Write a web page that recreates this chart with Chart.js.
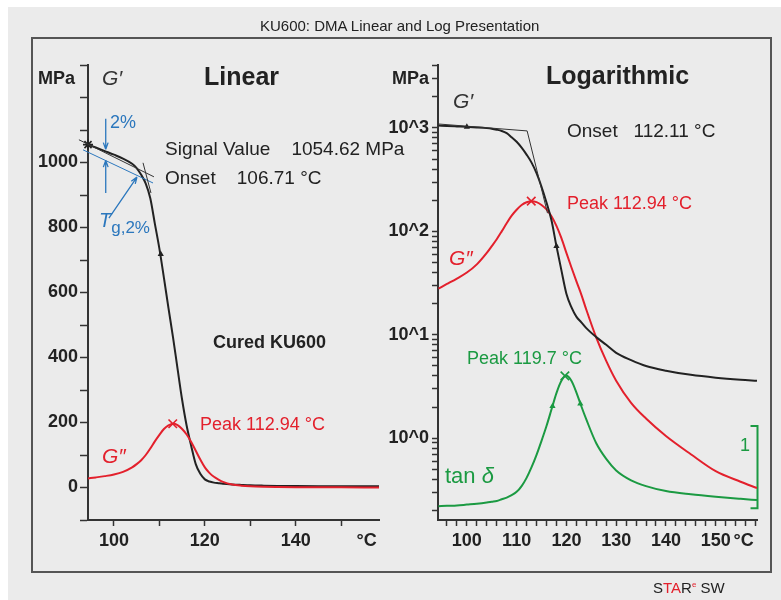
<!DOCTYPE html>
<html>
	<head>
		<title>KU600: DMA Linear and Log Presentation</title>
		<style type="text/css">
			body{ margin:0; background:#fff; }
			#page{ position:relative; width:781px; height:600px; overflow:hidden; font-family:"Liberation Sans", Arial, sans-serif; color:#222; }
			#panel{ position:absolute; left:8px; top:7px; width:773px; height:593px; background:#ebebeb; }
			#frame{ position:absolute; left:31px; top:37px; width:741px; height:536px; border:2px solid #555; box-sizing:border-box; }
			canvas{ position:absolute; left:0; top:0; }
			.t{ position:absolute; white-space:pre; line-height:1; }
			.red{ color:#e3202c; }
			.green{ color:#1b9a42; }
			.blue{ color:#2b77bd; }
			.b{ font-weight:bold; }
		</style>
	</head>
	<body>
		<script type="text/javascript" src="https://cdn.jsdelivr.net/npm/chart.js@4.4.0/dist/chart.umd.min.js"></script>

		<div id="page">
			<div id="panel"></div>
			<div id="frame"></div>
			<canvas id="linCanvas" width="781" height="600"></canvas>
			<canvas id="logCanvas" width="781" height="600"></canvas>

			<div class="t" style="left:260px;top:18px;font-size:15px;">KU600: DMA Linear and Log Presentation</div>

			<!-- linear panel labels -->
			<div class="t b" style="left:38px;top:69px;font-size:18px;">MPa</div>
			<div class="t" style="left:102px;top:67px;font-size:21px;font-style:italic;color:#333;">G′</div>
			<div class="t b" style="left:204px;top:64px;font-size:25px;">Linear</div>
			<div class="t blue" style="left:110px;top:113px;font-size:18px;">2%</div>
			<div class="t" style="left:165px;top:139px;font-size:19px;">Signal Value    1054.62 MPa</div>
			<div class="t" style="left:165px;top:168px;font-size:19px;">Onset    106.71 °C</div>
			<div class="t blue" style="left:99px;top:210px;font-size:20px;"><i>T</i><span style="font-size:17px;position:relative;top:6px;">g,2%</span></div>
			<div class="t b" style="left:213px;top:333px;font-size:18px;">Cured KU600</div>
			<div class="t red" style="left:200px;top:415px;font-size:18px;">Peak 112.94 °C</div>
			<div class="t red" style="left:102px;top:445px;font-size:21px;font-style:italic;">G″</div>

			<!-- log panel labels -->
			<div class="t b" style="left:546px;top:63px;font-size:25px;">Logarithmic</div>
			<div class="t" style="left:453px;top:90px;font-size:21px;font-style:italic;color:#333;">G′</div>
			<div class="t" style="left:567px;top:121px;font-size:19px;">Onset   112.11 °C</div>
			<div class="t red" style="left:567px;top:194px;font-size:18px;">Peak 112.94 °C</div>
			<div class="t red" style="left:449px;top:247px;font-size:21px;font-style:italic;">G″</div>
			<div class="t green" style="left:467px;top:349px;font-size:18px;">Peak 119.7 °C</div>
			<div class="t green" style="left:445px;top:465px;font-size:22px;">tan <i>δ</i></div>
			<div class="t green" style="left:740px;top:436px;font-size:18px;">1</div>

			<div class="t" style="left:653px;top:580px;font-size:15px;">S<span class="red">TA</span>R<sup class="red" style="font-size:8px;">e</sup> SW</div>
		</div>

		<script type="text/javascript">

			//measured curves, temperature in °C
			var temps = [94.3, 96, 98, 100, 102, 104, 105, 106, 107, 108, 109, 110, 111, 112, 113, 114, 115, 116, 117, 118, 119, 120, 121, 122, 123, 124, 126, 128, 130, 133, 136, 140, 145, 150, 155, 158.3];
			//storage modulus G' in MPa
			var storageMod = [1055, 1046, 1035, 1024, 1012, 996, 983, 962, 935, 890, 812, 735, 645, 552, 462, 365, 270, 190, 128, 72, 42, 25, 18.5, 15, 13.2, 11.6, 9.5, 8.0, 6.7, 5.7, 5.0, 4.5, 4.1, 3.85, 3.68, 3.6];
			//loss modulus G'' in MPa
			var lossMod = [28, 31, 35, 40, 48, 62, 72, 84, 100, 120, 142, 162, 180, 191, 196, 192, 180, 163, 140, 113, 86, 62, 45, 33, 24.5, 17.5, 9.4, 5.6, 3.6, 2.2, 1.55, 1.05, 0.7, 0.48, 0.38, 0.33];
			//tan delta
			var tanDelta = [0.025, 0.03, 0.035, 0.045, 0.055, 0.07, 0.08, 0.09, 0.11, 0.13, 0.16, 0.2, 0.27, 0.37, 0.5, 0.65, 0.82, 1.0, 1.2, 1.4, 1.55, 1.61, 1.55, 1.41, 1.24, 1.08, 0.79, 0.6, 0.46, 0.34, 0.27, 0.21, 0.17, 0.14, 0.115, 0.1];

			//evaluation results
			var signalPoint = [94.3, 1055];
			var gppPeak = [112.94, 196];
			var tanPeak = [119.7, 1.61];
			var linBaseline = [[92.3, 1070], [108.8, 956]];
			var linSteep = [[106.4, 999], [108.15, 906]];
			var linTwoPct = [[93.2, 1039], [108.6, 937]];
			var tgArrows = [
				{from:[98.2, 1135], to:[98.2, 1041]},
				{from:[98.2, 906], to:[98.2, 1006]},
				{from:[98.9, 829], to:[105.07, 955]}
			];
			var logBaseline = [[94.2, 1093], [112.11, 936]];
			var logSteep = [[112.11, 936], [116.2, 150]];
			var tanBracket = [[157.0, 1], [158.4, 1], [158.4, 0], [157.0, 0]];
			//small direction marks sitting on the curves
			var linMarkG1 = [[110.3, 718]];
			var logMarkG1 = [[100, 1024], [118, 72]];
			var logMarkTan = [[117.2, 1.24], [122.8, 1.27]];

			//axis ticks
			var linXTicks = [100, 110, 120, 130, 140, 150];
			var linXLabels = [100, 120, 140];
			var logXTicks = [96, 98, 100, 102, 104, 106, 108, 110, 112, 114, 116, 118, 120, 122, 124, 126, 128, 130, 132, 134, 136, 138, 140, 142, 144, 146, 148, 150, 152, 154, 156, 158];
			var logXLabels = [100, 110, 120, 130, 140, 150];
			var unitTick = 155.6;
			var linYTicks = [-100, 0, 100, 200, 300, 400, 500, 600, 700, 800, 900, 1000, 1100, 1200, 1300];
			var linYLabels = [0, 200, 400, 600, 800, 1000];

			var DARK = '#222', RED = '#e3202c', GREEN = '#1b9a42', BLUE = '#2b77bd';
			var tickFont = {size:18, weight:'bold'};

			Chart.defaults.font.family = '"Liberation Sans", Arial, sans-serif';
			Chart.defaults.color = DARK;

			function pts(xs, ys){
				return xs.map(function(x, i){ return {x:x, y:ys[i]}; });
			}
			function pairs(list){
				return list.map(function(p){ return {x:p[0], y:p[1]}; });
			}
			function curve(data, color, axis){
				return {data:data, yAxisID:axis, borderColor:color, borderWidth:2, pointRadius:0, cubicInterpolationMode:'monotone', fill:false};
			}
			function thin(data, color, axis){
				return {data:data, yAxisID:axis, borderColor:color, borderWidth:1, pointRadius:0, tension:0, clip:false, fill:false};
			}
			function marker(data, color, axis, style, r){
				return {data:data, yAxisID:axis, showLine:false, pointStyle:style, pointRadius:r || 6, borderColor:color, backgroundColor:color, pointBorderWidth:1.6, clip:false};
			}
			function zeroPad(s){
				s.paddingLeft = 0; s.paddingRight = 0; s.paddingTop = 0; s.paddingBottom = 0;
			}

			//blue arrows of the 2% evaluation
			var arrowPlugin = {
				id:'tgArrows',
				afterDatasetsDraw: function(chart){
					var c = chart.ctx, xs = chart.scales.x, ys = chart.scales.y;
					c.save();
					c.strokeStyle = BLUE;
					c.lineWidth = 1.3;
					tgArrows.forEach(function(a){
						var x1 = xs.getPixelForValue(a.from[0]), y1 = ys.getPixelForValue(a.from[1]);
						var x2 = xs.getPixelForValue(a.to[0]), y2 = ys.getPixelForValue(a.to[1]);
						var ang = Math.atan2(y2 - y1, x2 - x1), h = 7;
						c.beginPath();
						c.moveTo(x1, y1); c.lineTo(x2, y2);
						c.moveTo(x2, y2); c.lineTo(x2 - h*Math.cos(ang - 0.35), y2 - h*Math.sin(ang - 0.35));
						c.moveTo(x2, y2); c.lineTo(x2 - h*Math.cos(ang + 0.35), y2 - h*Math.sin(ang + 0.35));
						c.stroke();
					});
					c.restore();
				}
			};

			function xAxis(min, max, tickVals, labelVals){
				return {
					type:'linear', min:min, max:max,
					afterBuildTicks: function(s){
						s.ticks = tickVals.concat([unitTick]).map(function(v){ return {value:v}; });
					},
					afterFit: function(s){ s.height = 48; zeroPad(s); },
					ticks:{
						autoSkip:false, maxRotation:0, font:tickFont, color:DARK, padding:4,
						callback: function(v){
							if (v === unitTick) return '°C';
							return labelVals.indexOf(v) >= 0 ? String(v) : '';
						}
					},
					grid:{
						drawOnChartArea:false, tickLength:6, tickWidth:1.5,
						tickColor: function(ctx){ return (ctx.tick && ctx.tick.value === unitTick) ? 'rgba(0,0,0,0)' : '#333'; }
					},
					border:{color:'#333', width:2}
				};
			}

			//linear presentation
			new Chart(document.getElementById('linCanvas'), {
				type:'line',
				data:{
					datasets:[
						thin(pairs(linBaseline), '#333', 'y'),
						thin(pairs(linSteep), '#333', 'y'),
						thin(pairs(linTwoPct), BLUE, 'y'),
						curve(pts(temps, lossMod), RED, 'y'),
						curve(pts(temps, storageMod), DARK, 'y'),
						marker([{x:gppPeak[0], y:gppPeak[1]}], RED, 'y', 'crossRot'),
						marker([{x:signalPoint[0], y:signalPoint[1]}], DARK, 'y', 'star', 5),
						marker(pairs(linMarkG1), DARK, 'y', 'triangle', 2)
					]
				},
				options:{
					responsive:false, animation:false,
					layout:{padding:{left:0, top:65, right:402, bottom:32}},
					plugins:{legend:{display:false}, tooltip:{enabled:false}},
					scales:{
						x: xAxis(94.3, 158.3, linXTicks, linXLabels),
						y:{
							type:'linear', min:-100, max:1300,
							afterBuildTicks: function(s){
								s.ticks = linYTicks.map(function(v){ return {value:v}; });
							},
							afterFit: function(s){ s.width = 88; zeroPad(s); },
							ticks:{
								font:tickFont, color:DARK, padding:2,
								callback: function(v){ return linYLabels.indexOf(v) >= 0 ? String(v) : ''; }
							},
							grid:{drawOnChartArea:false, tickLength:8, tickWidth:1.5, tickColor:'#333'},
							border:{color:'#333', width:2}
						}
					}
				},
				plugins:[arrowPlugin]
			});

			//logarithmic presentation
			function logTicks(){
				var out = [];
				for (var e = -1; e <= 3; e++){
					for (var m = 1; m <= 9; m++){
						var v = m * Math.pow(10, e);
						if (v >= 0.162 && v <= 4060) out.push({value:v});
					}
				}
				return out;
			}

			new Chart(document.getElementById('logCanvas'), {
				type:'line',
				data:{
					datasets:[
						thin(pairs(logBaseline), '#333', 'y'),
						thin(pairs(logSteep), '#333', 'y'),
						curve(pts(temps, storageMod), DARK, 'y'),
						curve(pts(temps, lossMod), RED, 'y'),
						curve(pts(temps, tanDelta), GREEN, 'yt'),
						{data:pairs(tanBracket), yAxisID:'yt', borderColor:GREEN, borderWidth:2, pointRadius:0, tension:0, clip:false, fill:false},
						marker([{x:gppPeak[0], y:gppPeak[1]}], RED, 'y', 'crossRot'),
						marker([{x:tanPeak[0], y:tanPeak[1]}], GREEN, 'yt', 'crossRot'),
						marker(pairs(logMarkG1), DARK, 'y', 'triangle', 2),
						marker(pairs(logMarkTan), GREEN, 'yt', 'triangle', 2)
					]
				},
				options:{
					responsive:false, animation:false,
					layout:{padding:{left:380, top:65, right:23.5, bottom:32}},
					plugins:{legend:{display:false}, tooltip:{enabled:false}},
					scales:{
						x: xAxis(94.2, 158.4, logXTicks, logXLabels),
						y:{
							type:'logarithmic', min:0.162, max:4060,
							afterBuildTicks: function(s){ s.ticks = logTicks(); },
							afterFit: function(s){ s.width = 58; zeroPad(s); },
							ticks:{
								font:tickFont, color:DARK, padding:3, autoSkip:false,
								callback: function(v){
									var l = Math.log10(v);
									if (Math.abs(l - Math.round(l)) < 1e-9) return '10^' + Math.round(l);
									if (Math.abs(v - 3000) < 1e-6) return 'MPa';
									return '';
								}
							},
							grid:{drawOnChartArea:false, tickLength:6, tickWidth:1.5, tickColor:'#333'},
							border:{color:'#333', width:2}
						},
						yt:{type:'linear', display:false, min:-0.142, max:5.387}
					}
				}
			});
		</script>
	</body>
</html>
